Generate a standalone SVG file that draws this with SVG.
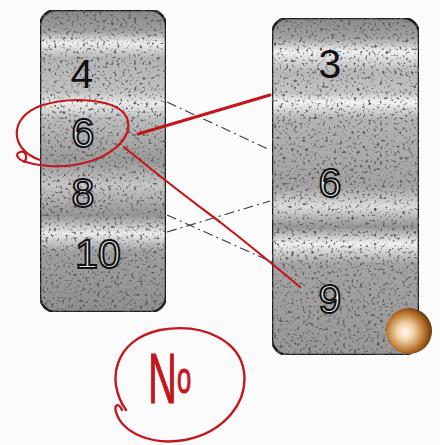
<svg xmlns="http://www.w3.org/2000/svg" width="440" height="445" viewBox="0 0 440 445">
<style>
.box{stroke:#1a1a1a;stroke-width:2.5}
.num{font-family:"Liberation Sans",Arial,sans-serif;font-size:41px;text-anchor:middle}
.solid{fill:#111}
.outl{fill:#e6e6e6;stroke:#111;stroke-width:2}
.dash{stroke:#3a3a3a;stroke-width:1.1;stroke-dasharray:10 4 2 4;fill:none}
.red{stroke:#c4161c;fill:none;stroke-linecap:round}
</style>
<defs>
<linearGradient id="gL" gradientUnits="userSpaceOnUse" x1="0" y1="10" x2="0" y2="312">
<stop offset="0" stop-color="#8a8a8a"/><stop offset="0.07" stop-color="#a0a0a0"/><stop offset="0.11" stop-color="#f0f0f0"/><stop offset="0.16" stop-color="#b4b4b4"/><stop offset="0.27" stop-color="#c2c2c2"/><stop offset="0.31" stop-color="#ececec"/><stop offset="0.36" stop-color="#bdbdbd"/><stop offset="0.5" stop-color="#9a9a9a"/><stop offset="0.58" stop-color="#c8c8c8"/><stop offset="0.68" stop-color="#959595"/><stop offset="0.74" stop-color="#ececec"/><stop offset="0.8" stop-color="#a0a0a0"/><stop offset="1" stop-color="#909090"/>
</linearGradient>
<linearGradient id="gR" gradientUnits="userSpaceOnUse" x1="0" y1="18" x2="0" y2="355">
<stop offset="0" stop-color="#8a8a8a"/><stop offset="0.06" stop-color="#a4a4a4"/><stop offset="0.1" stop-color="#f2f2f2"/><stop offset="0.16" stop-color="#b8b8b8"/><stop offset="0.22" stop-color="#c4c4c4"/><stop offset="0.25" stop-color="#f4f4f4"/><stop offset="0.3" stop-color="#b4b4b4"/><stop offset="0.5" stop-color="#a2a2a2"/><stop offset="0.56" stop-color="#dedede"/><stop offset="0.62" stop-color="#959595"/><stop offset="0.67" stop-color="#f2f2f2"/><stop offset="0.73" stop-color="#a4a4a4"/><stop offset="1" stop-color="#989898"/>
</linearGradient>
<radialGradient id="ball" cx="0.42" cy="0.52" r="0.62">
<stop offset="0" stop-color="#fffaf2"/><stop offset="0.3" stop-color="#f0d2a6"/><stop offset="0.7" stop-color="#b56c25"/><stop offset="1" stop-color="#4a2608"/>
</radialGradient>
<filter id="noise" x="0" y="0" width="100%" height="100%">
<feTurbulence type="fractalNoise" baseFrequency="0.35" numOctaves="2" seed="7" result="t"/>
<feColorMatrix in="t" type="matrix" values="0 0 0 0 0.1  0 0 0 0 0.1  0 0 0 0 0.1  5 0 0 0 -2.75" result="n"/>
<feComposite in="n" in2="SourceGraphic" operator="in" result="nn"/>
<feMerge><feMergeNode in="SourceGraphic"/><feMergeNode in="nn"/></feMerge>
</filter>
</defs>
<rect width="440" height="445" fill="#fbfbfb"/>
<g id="left-box">
<rect class="box" x="40" y="10" width="126" height="302" rx="16" fill="url(#gL)" filter="url(#noise)"/>
<text class="num solid" x="82" y="88">4</text>
<text class="num outl" x="83" y="147">6</text>
<text class="num outl" x="83" y="207">8</text>
<text class="num outl" x="98" y="268">10</text>
</g>
<g id="right-box">
<rect class="box" x="272" y="18" width="147" height="337" rx="16" fill="url(#gR)" filter="url(#noise)"/>
<text class="num solid" x="330" y="78">3</text>
<text class="num outl" x="330" y="197">6</text>
<text class="num outl" x="330" y="313">9</text>
</g>
<g id="connectors">
<line class="dash" x1="167" y1="102" x2="270" y2="150"/>
<line class="dash" x1="167" y1="232" x2="270" y2="201"/>
<line class="dash" x1="167" y1="215" x2="272" y2="262"/>
<path class="red" d="M138 134 L270 95" stroke-width="3"/>
<path class="red" d="M124 147 Q170 185 220 222 Q262 255 300 287" stroke="#9a1a1a" stroke-width="2.2"/>
</g>
<g id="circle-6">
<path class="red" stroke-width="2.2" d="M40 160 C10 150 8 118 40 106 C70 96 118 98 127 118 C134 138 110 158 80 164 C60 168 40 166 26 162 C18 160 14 154 20 152 C26 150 28 158 24 162"/>
</g>
<g id="no-mark">
<text transform="translate(148,403) scale(0.8,1.4)" font-family="Liberation Sans,Arial,sans-serif" font-size="50" fill="#c4161c" stroke="#c4161c" stroke-width="0.8">N<tspan font-size="32" dy="-7">o</tspan></text>
<path class="red" stroke-width="2.4" d="M126 410 C105 380 115 340 160 330 C205 322 240 342 244 372 C248 402 225 432 185 440 C150 446 122 432 116 412 C114 405 118 402 122 410"/>
</g>
<g id="ball-mark">
<circle cx="409" cy="331" r="23" fill="url(#ball)"/>
</g>
</svg>
